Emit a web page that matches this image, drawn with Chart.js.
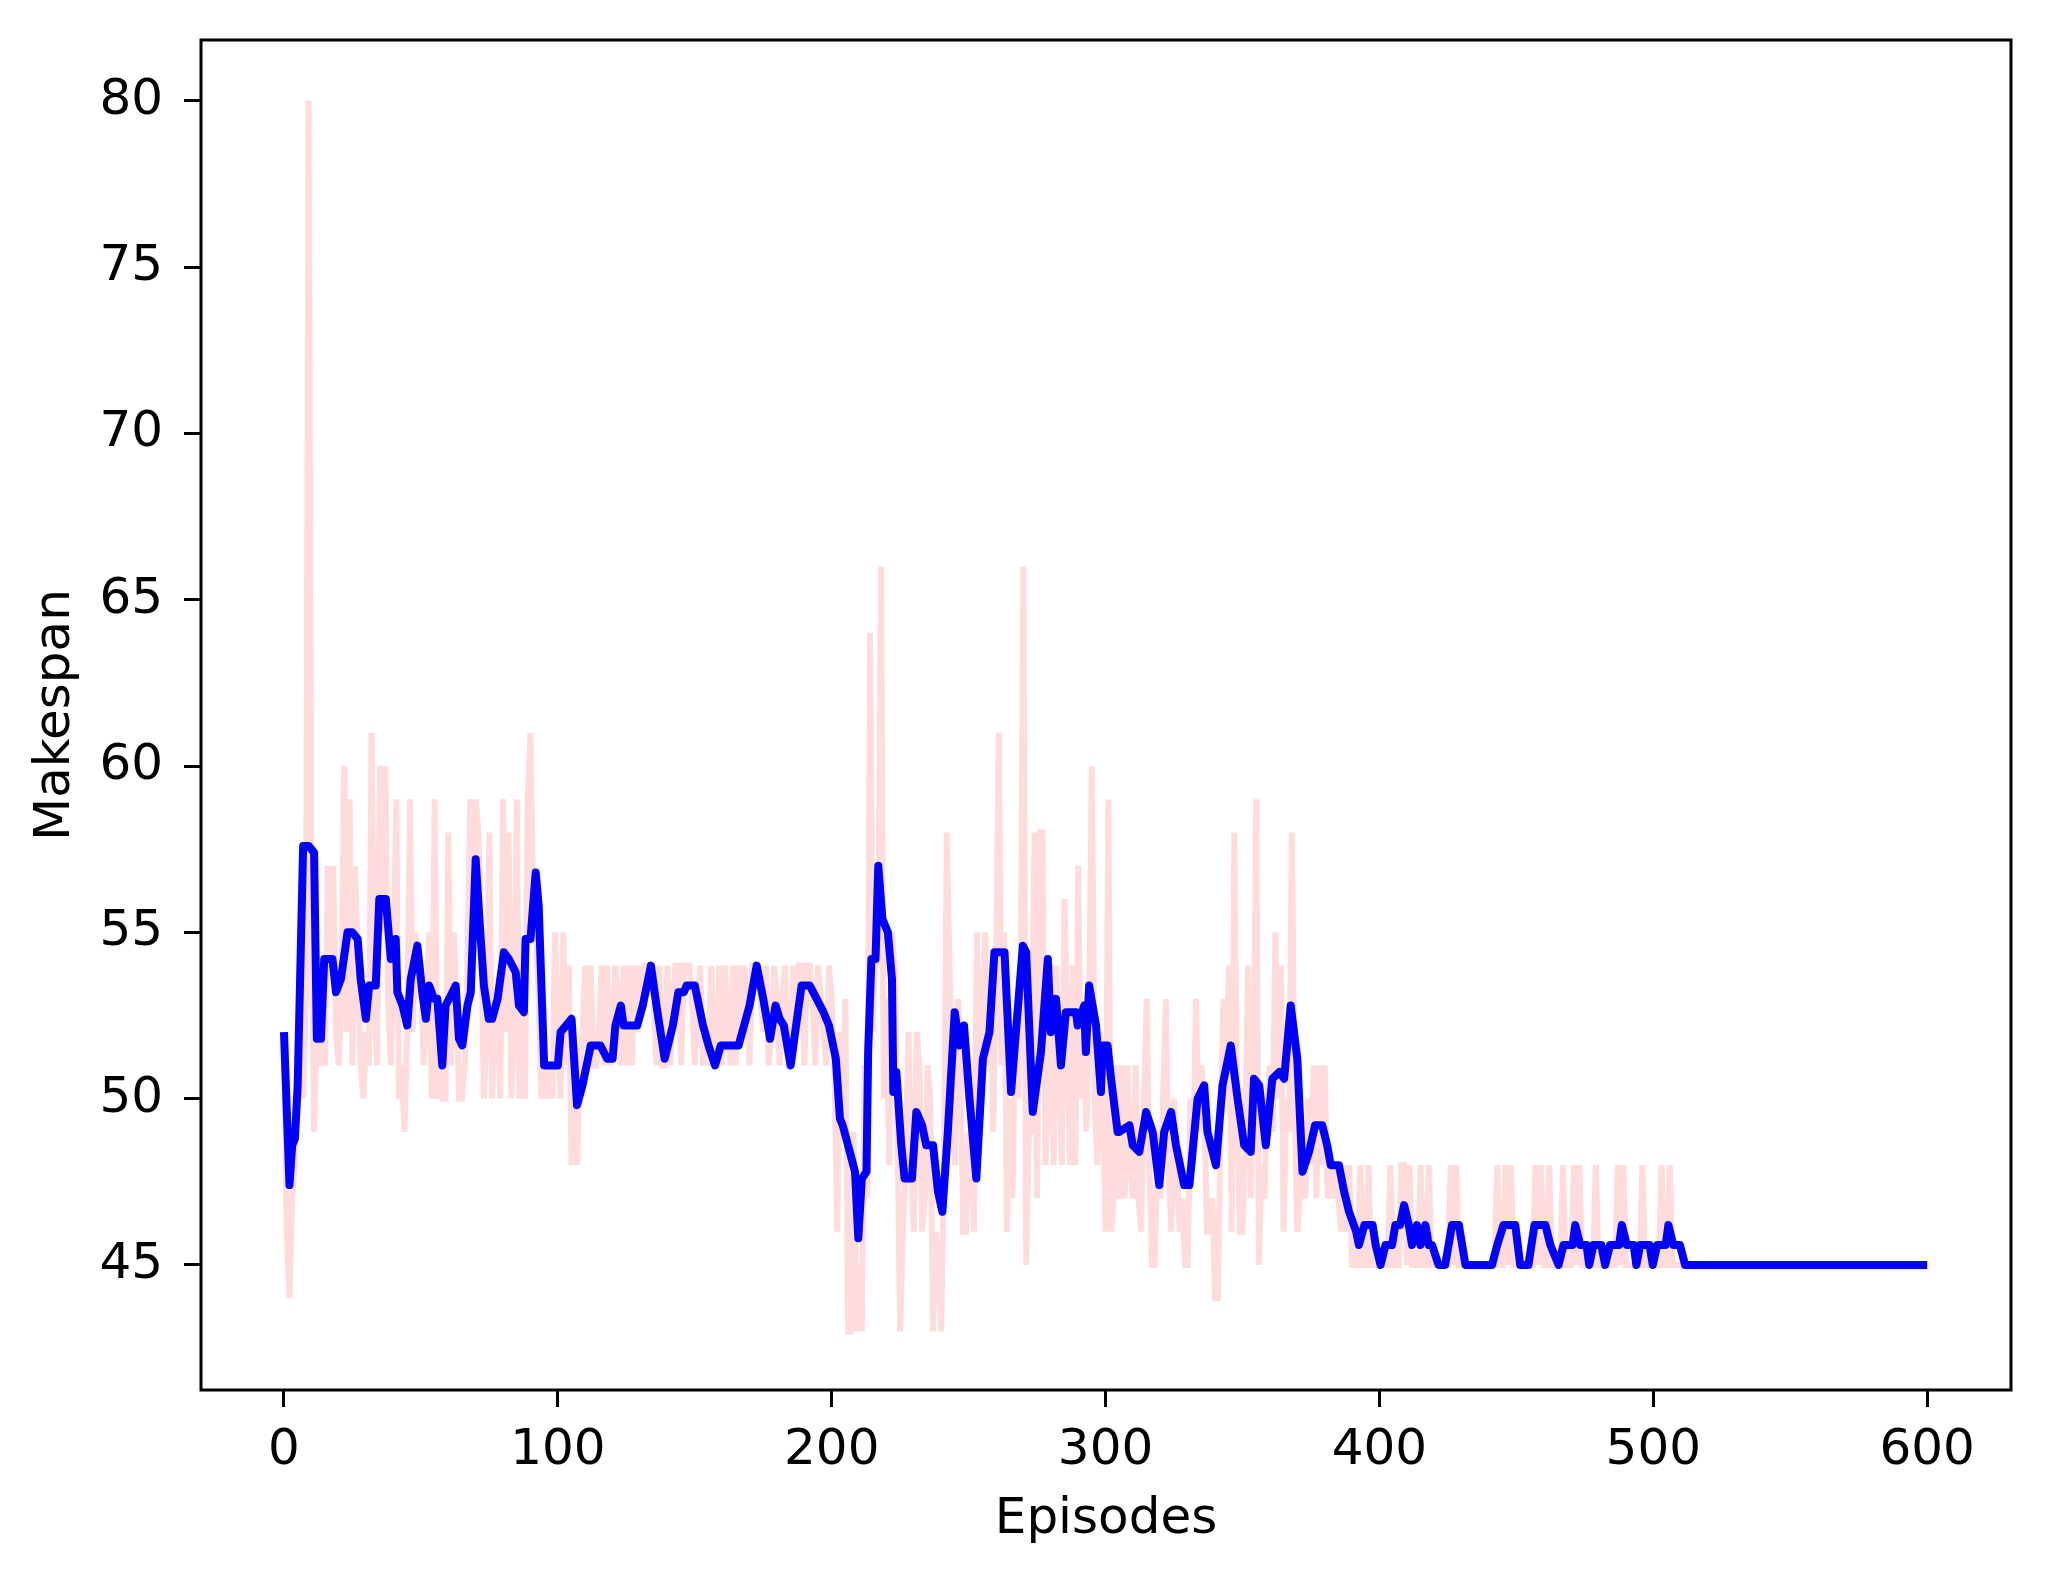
<!DOCTYPE html>
<html><head><meta charset="utf-8">
<script src="https://cdn.jsdelivr.net/npm/chart.js@4.4.0/dist/chart.umd.min.js"></script>
<style>html,body{margin:0;padding:0;background:#fff;}canvas{display:block;}</style>
</head><body>
<canvas id="c" width="2052" height="1576"></canvas>
<script>
const xTicks=[0,100,200,300,400,500,600];
const yTicks=[45,50,55,60,65,70,75,80];
const xTitle='Episodes';
const yTitle='Makespan';

// raw makespan per episode (pink), episodes 0..600
const raw0=[52,46,44,47,48,51,54,50,53,80,
57,49,52,51,52,51,57,54,57,52,
51,53,60,52,59,51,57,54,51,50,
52,51,61,53,51,60,55,60,53,51,
54,59,50,51,49,52,59,52,55,53,
54,51,53,55,50,59,50,51,50,50,
58,51,55,53,50,50,51,54,59,56,
59,58,55,50,52,58,50,52,53,50,
59,52,58,50,52,59,50,53,50,59,
61,56,55,53,50,51,50,51,50,55];
const raw1=[52,50,55,51,54,48,50,48,51,52,
54,51,54,51,51,52,54,51,54,51,
52,54,53,51,54,51,54,51,54,52,
54,53,54,54,54,53,51,54,51,51,
54,51,53,54,54,51,54,54,54,53,
51,53,54,51,52,51,54,51,51,54,
51,54,52,51,54,51,54,52,54,53,
51,54,54,54,53,52,54,51,52,54,
53,51,53,54,51,51,54,53,54,54,
51,54,54,53,51,54,53,52,51,54];
const raw2=[53,51,46,52,49,53,43,43,49,43,
45,43,51,47,64,52,55,54,66,50,
53,48,55,54,49,43,46,48,52,48,
46,52,51,46,47,51,50,43,46,45,
43,48,58,54,50,48,53,52,46,46,
49,48,46,55,49,53,55,51,53,49,
54,61,51,55,46,50,47,52,50,53,
66,45,49,49,58,47,58,58,48,50,
54,48,54,51,48,56,52,48,54,48,
57,50,52,49,53,60,50,48,52,50];
const raw3=[46,59,46,47,51,47,51,47,51,48,
47,51,47,46,50,53,48,45,45,49,
47,50,53,48,46,50,48,46,47,45,
45,50,48,53,49,51,50,46,46,47,
44,44,49,53,50,54,46,58,50,46,
46,49,54,47,50,59,45,48,47,50,
51,49,55,50,54,46,50,49,58,50,
46,47,48,47,50,48,51,47,51,48,
51,47,48,47,48,47,46,48,46,48,
45,45,45,48,45,45,48,45,45,45];
const raw4=[45,45,45,45,48,45,45,45,48,48,
45,48,45,45,45,48,45,45,48,45,
45,45,45,45,45,45,48,45,48,45,
45,45,45,45,45,45,45,45,45,45,
45,45,45,48,45,45,48,45,48,45,
45,45,45,45,45,45,45,48,45,48,
45,45,48,45,45,45,45,48,45,45,
45,48,45,48,45,45,45,45,45,48,
45,45,45,45,45,45,45,48,45,48,
45,45,45,45,45,45,48,45,45,45];
const raw5=[45,45,45,48,45,45,48,45,45,45,
45,45,45,45,45,45,45,45,45,45,
45,45,45,45,45,45,45,45,45,45,
45,45,45,45,45,45,45,45,45,45,
45,45,45,45,45,45,45,45,45,45,
45,45,45,45,45,45,45,45,45,45,
45,45,45,45,45,45,45,45,45,45,
45,45,45,45,45,45,45,45,45,45,
45,45,45,45,45,45,45,45,45,45,
45,45,45,45,45,45,45,45,45,45,
45];

// smoothed makespan (blue), vertices
const smoothX=[0,2,3,4,5,7,9,11,12,13.5,14.7,17.7,19,20.8,23.2,25,26.9,28,29.9,31.1,33.5,34.8,37.2,39,40.8,41.4,43.3,45,46.3,48.7,50.5,51.8,53,54.8,56,57.8,59,61.5,62.7,63.9,65.1,67,68.2,70,71.2,73,74.8,76,78,80.3,82.1,84.6,85.8,87.6,88.2,90,91.9,93,95,100,101,105,107,109,112,115.5,118,120,121,123,124,129,131,134,136,139,142,144,146,147,150,151,153,155,157.4,159.5,166,168,170,172.6,175,177.5,179.5,181,182.5,185,189,192,194.5,197,199,201.5,203,204,206.6,208.5,209.7,211,212.7,213.3,214.5,216,217,218.5,220.5,222,222.5,223.6,225.4,226.6,229.3,230.9,233,234.5,237,238.8,240.4,242.4,244.9,246.7,248.3,250.3,252.8,255.2,257.6,259.4,263.1,265.5,269.8,271,273.4,276.4,278.9,280,281.9,283.7,285.5,289.2,289.8,292.2,292.8,294,296.5,298.3,298.9,300.7,302,304.4,305,308.7,309.9,312.3,314.8,317.2,319.6,321.4,323.9,325.7,328.7,330.6,333.6,336,337.2,340.3,342.7,345.7,348.2,350.6,353,354.2,356.1,358.5,360.9,363.4,365.2,367.6,370,371.9,374.3,376.5,379.1,380.9,382.2,385.2,387.1,388.9,391.5,392.5,394.5,397.5,398.6,400.4,402.2,404.6,405.8,407.5,409,410.7,411.9,413.7,415,416.8,418,419.2,421.6,424,426.5,429,431.4,441.1,443,445.3,449.6,451.4,454.4,456.6,460.6,462.4,465.4,467.2,470.5,471.5,473.3,475.6,476.6,478.1,481,482.4,484.2,487.5,488.5,490.3,492.8,493.8,495.2,498.6,499.8,501.4,504.5,505.5,507.3,509.7,511.6,600];
const smoothY=[52.0,47.4,48.6,48.8,50.4,57.6,57.6,57.4,51.8,51.8,54.2,54.2,53.2,53.6,55.0,55.0,54.8,53.6,52.4,53.4,53.4,56.0,56.0,54.2,54.8,53.2,52.8,52.2,53.6,54.6,53.2,52.4,53.4,53.0,53.0,51.0,52.8,53.2,53.4,51.8,51.6,52.8,53.2,57.2,55.6,53.4,52.4,52.4,53.0,54.4,54.2,53.8,52.8,52.6,54.8,54.8,56.8,55.8,51.0,51.0,52.0,52.4,49.8,50.4,51.6,51.6,51.2,51.2,52.2,52.8,52.2,52.2,52.8,54.0,52.8,51.2,52.2,53.2,53.2,53.4,53.4,53.0,52.2,51.6,51.0,51.6,51.6,52.2,52.8,54.0,53.0,51.8,52.8,52.4,52.2,51.0,53.4,53.4,53.0,52.6,52.2,51.2,49.4,49.2,48.4,47.8,45.8,47.6,47.8,51.4,54.2,54.2,57.0,55.4,55.0,53.6,50.2,50.8,48.6,47.6,47.6,49.6,49.2,48.6,48.6,47.2,46.6,49.0,52.6,51.6,52.2,50.0,47.6,51.2,52.0,54.4,54.4,50.2,54.6,54.4,49.6,51.4,54.2,52.0,53.0,51.0,52.6,52.6,52.2,52.8,51.4,53.4,52.2,50.2,51.6,51.6,50.6,49.0,49.0,49.2,48.6,48.4,49.6,49.0,47.4,49.0,49.6,48.6,47.4,47.4,50.0,50.4,49.0,48.0,50.4,51.6,50.0,48.6,48.4,50.6,50.4,48.6,50.6,50.8,50.6,52.8,51.2,47.8,48.4,49.2,49.2,48.6,48.0,48.0,47.2,46.6,46.0,45.6,46.2,46.2,45.6,45.0,45.6,45.6,46.2,46.2,46.8,46.2,45.6,46.2,45.6,46.2,45.6,45.6,45.0,45.0,46.2,46.2,45.0,45.0,45.6,46.2,46.2,45.0,45.0,46.2,46.2,45.6,45.0,45.6,45.6,46.2,45.6,45.6,45.0,45.6,45.6,45.0,45.6,45.6,46.2,45.6,45.6,45.0,45.6,45.6,45.0,45.6,45.6,46.2,45.6,45.6,45.0,45.0];

const rawMakespan=raw0.concat(raw1,raw2,raw3,raw4,raw5);
const rawPoints=rawMakespan.map((y,i)=>({x:i,y:y}));
const smoothPoints=smoothX.map((x,i)=>({x:x,y:smoothY[i]}));

const boxPlugin={
  id:'box',
  afterDatasetsDraw(chart){
    const {ctx,chartArea:a}=chart;
    ctx.save();
    ctx.strokeStyle='#000';
    ctx.lineWidth=3;
    ctx.strokeRect(a.left,a.top,a.right-a.left,a.bottom-a.top);
    ctx.restore();
  }
};

const font={family:'"DejaVu Sans", sans-serif',size:50};
new Chart(document.getElementById('c'),{
  type:'line',
  data:{datasets:[
    {label:'smoothed',data:smoothPoints,borderColor:'#0000ff',borderWidth:8,pointRadius:0,tension:0,fill:false,order:0,borderJoinStyle:'round',borderCapStyle:'butt'},
    {label:'raw',data:rawPoints,borderColor:'#ffdcdc',borderWidth:6,pointRadius:0,tension:0,fill:false,order:1}
  ]},
  options:{
    responsive:false,animation:false,devicePixelRatio:1,
    layout:{padding:{top:40,right:41,left:0,bottom:0}},
    plugins:{legend:{display:false},tooltip:{enabled:false}},
    scales:{
      x:{type:'linear',min:-30.3,max:630.6,
        afterBuildTicks:s=>{s.ticks=xTicks.map(v=>({value:v}));},
        afterFit:s=>{s.height=186;s.paddingLeft=0;s.paddingRight=0;},
        grid:{drawOnChartArea:false,drawTicks:true,tickLength:17,tickWidth:3,tickColor:'#000'},
        border:{display:false},
        ticks:{color:'#000',font:font,padding:14,maxRotation:0,autoSkip:false},
        title:{display:true,text:xTitle,color:'#000',font:font,padding:{top:0,bottom:26}}},
      y:{type:'linear',min:41.24,max:81.83,
        afterBuildTicks:s=>{s.ticks=yTicks.map(v=>({value:v}));},
        afterFit:s=>{s.width=201;s.paddingTop=0;s.paddingBottom=0;},
        grid:{drawOnChartArea:false,drawTicks:true,tickLength:17,tickWidth:3,tickColor:'#000'},
        border:{display:false},
        ticks:{color:'#000',font:font,padding:21,autoSkip:false},
        title:{display:true,text:yTitle,color:'#000',font:font,padding:{top:26,bottom:0}}}
    }
  },
  plugins:[boxPlugin]
});
</script>
</body></html>
